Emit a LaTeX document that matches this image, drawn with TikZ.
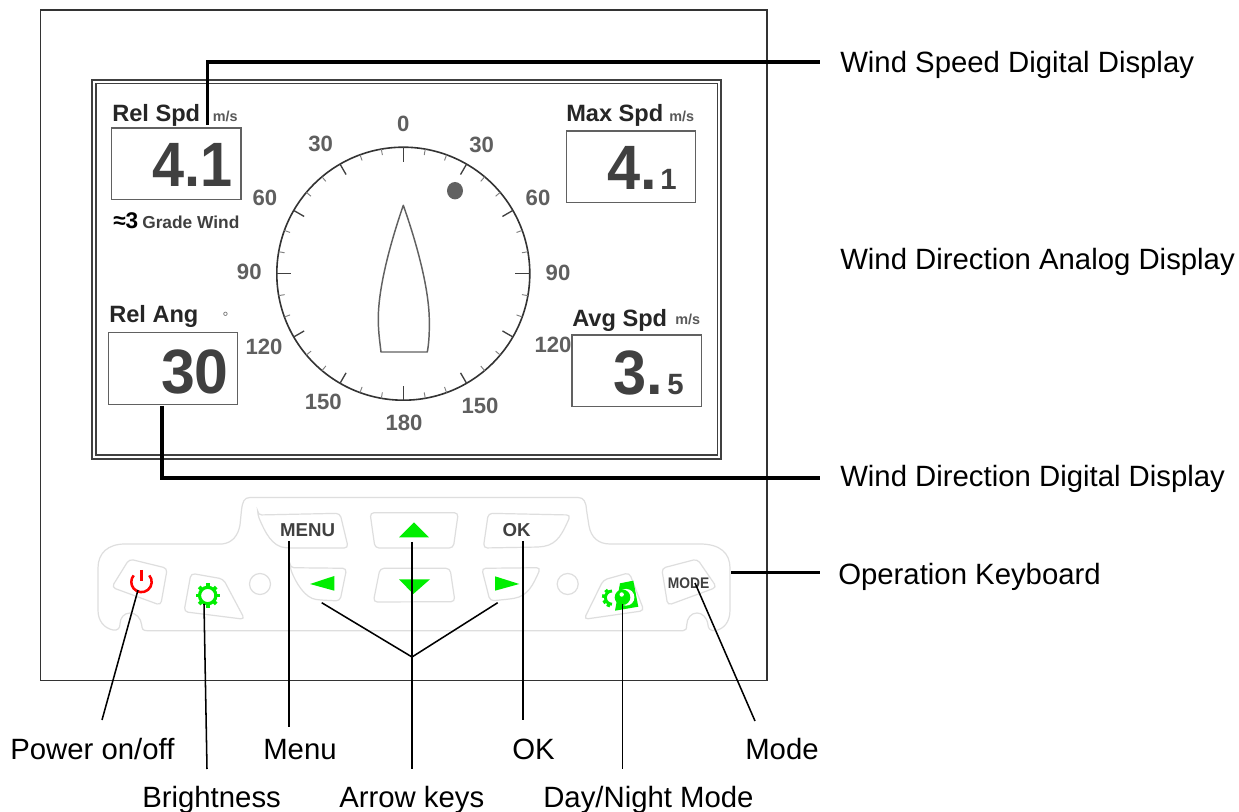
\documentclass[tikz,border=0pt]{standalone}
\usepackage{fontspec}
\setmainfont{Liberation Sans}
\newcommand{\fsz}[1]{\fontsize{#1}{#1}\selectfont}
\definecolor{dk}{HTML}{404040}
\definecolor{dialtxt}{HTML}{5F5F5F}
\definecolor{keyline}{HTML}{DEDEDE}
\definecolor{keygreen}{HTML}{00EE00}
\tikzset{
  x=0.75pt,y=-0.75pt,
  txt/.style={inner sep=0pt,anchor=base west},
  callout/.style={txt,font=\fsz{22}},
  title/.style={txt,font=\fsz{17.7}\bfseries,text=black!85},
  unit/.style={txt,font=\fsz{10.8}\bfseries,text=black!65},
  bignum/.style={inner sep=0pt,anchor=base east,font=\fsz{47}\bfseries,text=dk},
  smallnum/.style={inner sep=0pt,anchor=base east,font=\fsz{22}\bfseries,text=dk},
  dial/.style={inner sep=0pt,font=\fsz{16.6}\bfseries,text=dialtxt},
  keycap/.style={inner sep=0pt,anchor=base,font=\fsz{14}\bfseries,text=dk},
  databox/.style={draw=black!62,line width=1.1pt,fill=white},
  keyb/.style={draw=keyline,line width=0.9pt,rounded corners=3pt},
  thickline/.style={draw=black,line width=2.7pt,line join=miter},
  thinline/.style={draw=black,line width=1.15pt},
  keyfill/.style={fill=keygreen,draw=none},
}
\begin{document}
\begin{tikzpicture}
\useasboundingbox (0,0) rectangle (1239,812);
\fill[white] (0,0) rectangle (1239,812);
% housing and screen
\draw[black!80,line width=1.3pt] (40.5,10) rectangle (767,680.5);
\draw[black!75,line width=1.25pt] (92,80) rectangle (721,459);
\draw[black!75,line width=1.25pt] (96,83.5) rectangle (717.5,455);
% data boxes
\draw[databox] (111.7,128) rectangle (241,199.3);
\draw[databox] (566.3,131) rectangle (695.7,202.3);
\draw[databox] (108.3,332.7) rectangle (237.7,404.3);
\draw[databox] (572,335) rectangle (701.7,406.7);
\node[title] (relspd) at (112,121.5) {Rel Spd};
\node[unit] (relspdu) at (212.5,121.5) {m/s};
\node[title] (maxspd) at (566,121.5) {Max Spd};
\node[unit] (maxspdu) at (669,121.5) {m/s};
\node[title] (relang) at (109,323) {Rel Ang};
\node[inner sep=0pt,font=\fsz{11},text=black!60] (deg) at (225.5,317) {°};
\node[title] (avgspd) at (572,327) {Avg Spd};
\node[unit] (avgspdu) at (675,325) {m/s};
\node[bignum] (vrel) at (233,186.7) {\scalebox{.92}[1]{4.1}};
\node[bignum] (vmax) at (657,190) {\scalebox{.95}[1]{4.}};
\node[smallnum,anchor=base west] (vmaxb) at (660,190) {1};
\node[bignum] (vang) at (229,393.3) {\scalebox{.97}[1]{30}};
\node[bignum] (vavg) at (663,395) {\scalebox{.95}[1]{3.}};
\node[smallnum,anchor=base west] (vavgb) at (667,395) {5};
\node[txt,font=\fsz{17}\bfseries,text=black] (g3) at (113,229) {≈3};
\node[txt,font=\fsz{13}\bfseries,text=dk] (gw) at (142,229) {Grade Wind};
% dial
\begin{scope}[shift={(403.3,273.7)}]
  \draw[black!80,line width=1.2pt] (0,0) circle[radius=126.5];
  \foreach \a in {30,60,120,150,210,240,300,330}{\draw[black!75,line width=1pt] (\a:126.5) -- (\a:114.5);}
  \foreach \a in {0,90,180,270}{\draw[black!75,line width=1pt] (\a:126.5) -- (\a:112);}
  \foreach \a in {10,20,40,50,70,80,100,110,130,140,160,170,190,200,220,230,250,260,280,290,310,320,340,350}{\draw[black!50,line width=.7pt] (\a:126.5) -- (\a:120.5);}
\end{scope}
\node[dial] (d0) at (403.3,124) {0};
\node[dial] (d30l) at (320.7,144) {30};
\node[dial] (d30r) at (481.7,144.7) {30};
\node[dial] (d60l) at (265,198.3) {60};
\node[dial] (d60r) at (538,198) {60};
\node[dial] (d90l) at (249.3,272) {90};
\node[dial] (d90r) at (558,273) {90};
\node[dial] (d120l) at (264,346.7) {120};
\node[dial] (d120r) at (553,345) {120};
\node[dial] (d150l) at (323.3,401.7) {150};
\node[dial] (d150r) at (480,406) {150};
\node[dial] (d180) at (404,422.7) {180};
\fill[black!62] (455,190.7) ellipse[x radius=8,y radius=8.7];
\draw[black!62,line width=1.1pt,line join=round] (403.3,205.3) .. controls (389,247) and (378,290) .. (378.3,320) .. controls (378.3,332) and (380,343) .. (381,352) -- (427.3,352) .. controls (429,343) and (429.5,332) .. (429.3,320) .. controls (429,290) and (418,247) .. (403.3,205.3) -- cycle;
% keyboard
\draw[keyline,line width=.9pt] (250,497.5) -- (578,497.5) .. controls (584,497.5) and (586,502) .. (586.5,510) -- (589,526) .. controls (591,537) and (598,544) .. (610,544) -- (700,544) .. controls (720,544) and (730,553) .. (730,568) -- (730,610) .. controls (730,622) and (724,629) .. (715,630.7) .. controls (710,631) and (708,628) .. (708,625) .. controls (707,617) and (702,613) .. (697,613) .. controls (691,613) and (687,618) .. (686.7,625) .. controls (686.5,629) and (686,630.7) .. (683,630.7) -- (147,630.7) .. controls (143,630.7) and (142,629) .. (141.7,625) .. controls (141,618) and (136,613) .. (130,613) .. controls (124,613) and (120,618) .. (120,624) .. controls (120,628) and (118,630.7) .. (113,630) .. controls (104,628) and (98,621) .. (98,610) -- (98,568) .. controls (98,553) and (108,544) .. (125,544) -- (222,544) .. controls (232,543) and (238,536) .. (240,525) -- (241.5,510) .. controls (242.5,502) and (244,497.5) .. cycle;
\draw[keyb] (129.3,559) -- (167.3,568.3) -- (160.7,605.3) -- (111.7,587.3) -- cycle;
\draw[keyb] (191,573.3) -- (223.3,579) -- (244.7,619.3) -- (184,611.7) -- cycle;
\draw[keyline,line width=.9pt] (260,584) circle[radius=10.5];
\draw[keyline,line width=.9pt] (567.7,584) circle[radius=10.5];
\draw[keyb] (257.7,515) -- (340,513.3) -- (348.3,548) -- (290,548) .. controls (272,547) and (265,532) .. cycle;
\draw[keyb] (370,512.7) -- (458.3,512.7) -- (453.3,548) -- (375,548) -- cycle;
\draw[keyb] (290,567.7) -- (346.7,568.3) -- (340,601) -- (320,600) .. controls (305,598) and (296,583) .. cycle;
\draw[keyb] (380,568.3) -- (450,568.3) -- (455,601.7) -- (373.3,602) -- cycle;
\draw[keyb] (488.3,513.3) -- (570.7,515) .. controls (563,532) and (558,544) .. (540,547) -- (483.3,548) -- cycle;
\draw[keyb] (481.7,568.3) -- (540.7,567.7) .. controls (533,585) and (528,596) .. (510,599) -- (490,601) -- cycle;
\draw[keyb] (629.3,572.7) -- (644,610.7) -- (584,619.3) -- (603.3,580) -- cycle;
\draw[keyb] (661.7,568.3) -- (697.3,559) -- (716.7,587.3) -- (667.7,605.3) -- cycle;
% key symbols
\draw[red,line width=1.9pt] (149.3,575.4) arc[start angle=-40,end angle=220,radius=10.2] ;
\draw[red,line width=1.9pt] (141.7,570) -- (141.7,581);
\draw[keygreen,line width=2.4pt] (207.7,595.5) circle[radius=8.2];
\foreach \a in {0,45,...,315}{\draw[keygreen,line width=2.8pt] (207.7,595.5) ++(\a:9) -- ++(\a:3);}
\path[keyfill] (399,537.3) -- (429,537.3) -- (414,522.3) -- cycle;
\path[keyfill] (399,579.3) -- (430,579.3) -- (413.3,594) -- cycle;
\path[keyfill] (310,584) -- (334.3,576) -- (334.3,590.7) -- cycle;
\path[keyfill] (495,576.3) -- (495,590.7) -- (519.3,584) -- cycle;
\draw[keygreen,line width=2.2pt] (612,604.2) arc[start angle=90,end angle=270,radius=6.6];
\foreach \a in {115,150,190,230}{\draw[keygreen,line width=2.6pt] (612,597.6) ++(\a:7) -- ++(\a:3);}
\path[keyfill] (620,583.3) -- (633.3,580.7) -- (638.3,606.7) -- (615,610.7) -- cycle;
\fill[white] (626,597.3) circle[radius=8.4];
\path[keyfill] (622.5,597.3) circle[radius=7.8];
\fill[white] (621.7,594.5) circle[radius=2.2];
\node[keycap] (kmenu) at (307.5,537) {MENU};
\node[keycap] (kok) at (516.5,537) {OK};
\node[keycap,font=\fsz{11.5}\bfseries] (kmode) at (688.5,588.3) {\scalebox{.9}[1]{MODE}};
% connector anchors
\coordinate (a1) at (207.3,125);
\coordinate (a1b) at (820,62);
\coordinate (a2) at (161.7,406);
\coordinate (a2b) at (820,478);
\coordinate (a3) at (731,572.5);
\coordinate (a3b) at (820,572.5);
\coordinate (pwr) at (138,590);
\coordinate (pwrb) at (102,720);
\coordinate (bri) at (204,604);
\coordinate (brib) at (207,769);
\coordinate (men) at (289,541);
\coordinate (menb) at (289,727);
\coordinate (arr) at (412,542);
\coordinate (arrb) at (412,769);
\coordinate (arrj) at (412,657);
\coordinate (arrl) at (321.7,602.7);
\coordinate (arrr) at (497.7,602.7);
\coordinate (okk) at (523,541);
\coordinate (okb) at (523,720);
\coordinate (dn) at (622.7,604);
\coordinate (dnb) at (622.7,769);
\coordinate (mod) at (695,583);
\coordinate (modb) at (755,721);
\draw[thickline] (a1) |- (a1b);
\draw[thickline] (a2) |- (a2b);
\draw[thickline] (a3) -- (a3b);
\draw[thinline] (pwr) -- (pwrb);
\draw[thinline] (bri) -- (brib);
\draw[thinline] (men) -- (menb);
\draw[thinline] (arr) -- (arrb);
\draw[thinline] (arrl) -- (arrj);
\draw[thinline] (arrr) -- (arrj);
\draw[thinline] (okk) -- (okb);
\draw[thinline] (dn) -- (dnb);
\draw[thinline] (mod) -- (modb);
% callouts
\node[callout] (t1) at (840,73) {Wind Speed Digital Display};
\node[callout] (t2) at (840,270) {Wind Direction Analog Display};
\node[callout] (t3) at (840,487) {Wind Direction Digital Display};
\node[callout] (t4) at (838,585) {Operation Keyboard};
\node[callout] (t5) at (10,759) {Power on/off};
\node[callout] (t6) at (263,759) {Menu};
\node[callout] (t7) at (512,759) {OK};
\node[callout] (t8) at (745,759) {Mode};
\node[callout] (t9) at (142,807) {Brightness};
\node[callout] (t10) at (339,807) {Arrow keys};
\node[callout] (t11) at (543,807) {Day/Night Mode};
\end{tikzpicture}
\end{document}
